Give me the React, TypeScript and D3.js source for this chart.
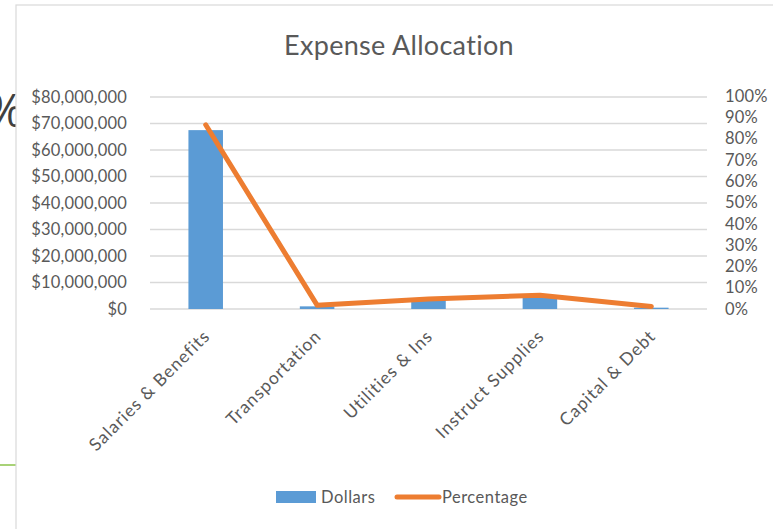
import React from "react";
import * as d3 from "d3";

const categories = [
  "Salaries & Benefits",
  "Transportation",
  "Utilities & Ins",
  "Instruct Supplies",
  "Capital & Debt",
];
const dollars = [67500000, 1000000, 3700000, 4600000, 500000];
const percentages = [0.865, 0.018, 0.047, 0.065, 0.012];
const dollarTicks = [0, 10e6, 20e6, 30e6, 40e6, 50e6, 60e6, 70e6, 80e6];
const percentTicks = [0, 0.1, 0.2, 0.3, 0.4, 0.5, 0.6, 0.7, 0.8, 0.9, 1];

const W = 773;
const H = 529;
const font = "Lato, 'Open Sans', sans-serif";
const textColor = "#595959";
const blue = "#5B9BD5";
const orange = "#ED7D31";

const App = () => {
  const x = d3.scaleBand().domain(categories).range([150, 707]).padding(0);
  const yL = d3.scaleLinear().domain([0, 80e6]).range([309, 97]);
  const yR = d3.scaleLinear().domain([0, 1]).range([309, 96]);
  const barW = x.bandwidth() * 0.31;
  const fmt = d3.format(",");

  const line = d3
    .line<number>()
    .x((d, i) => x(categories[i])! + x.bandwidth() / 2)
    .y((d) => yR(d));

  return (
    <svg
      width={W}
      height={H}
      style={{ position: "absolute", left: 0, top: 0, background: "#fff" }}
      fontFamily={font}
    >
      {/* stray bits of the slide behind the chart */}
      <text x={-14} y={127} fontSize={46} fill="#404040" fontFamily="'Open Sans', sans-serif">%</text>
      <line x1={0} x2={16} y1={465} y2={465} stroke="#8BC34A" strokeWidth={1.5} />
      <rect x={16} y={5} width={W} height={H} fill="#fff" stroke="#D9D9D9" strokeWidth={1.2} />

      <text x={399} y={55} textAnchor="middle" fontSize={27} letterSpacing={0.3} fill={textColor}>
        Expense Allocation
      </text>

      {dollarTicks.map((t) => (
        <g key={t}>
          <line x1={150} x2={707} y1={yL(t)} y2={yL(t)} stroke="#D9D9D9" strokeWidth={1.5} />
          <text x={127} y={yL(t)} dy="0.35em" textAnchor="end" fontSize={16.5} letterSpacing={0.2} fill={textColor}>
            {"$" + fmt(t)}
          </text>
        </g>
      ))}

      {percentTicks.map((t) => (
        <text key={t} x={725} y={yR(t)} dy="0.35em" fontSize={16.5} letterSpacing={0.2} fill={textColor}>
          {Math.round(t * 100) + "%"}
        </text>
      ))}

      {dollars.map((d, i) => (
        <rect
          key={categories[i]}
          x={x(categories[i])! + x.bandwidth() / 2 - barW / 2}
          y={yL(d)}
          width={barW}
          height={yL(0) - yL(d)}
          fill={blue}
        />
      ))}

      <path d={line(percentages)!} fill="none" stroke={orange} strokeWidth={5} strokeLinecap="round" strokeLinejoin="round" />

      {categories.map((c) => (
        <text
          key={c}
          transform={`translate(${x(c)! + x.bandwidth() / 2 + 1},${333}) rotate(-45)`}
          textAnchor="end"
          dy="0.35em"
          fontSize={17.5}
          letterSpacing={1}
          fill={textColor}
        >
          {c}
        </text>
      ))}

      <g>
        <rect x={276} y={491} width={40} height={12} fill={blue} />
        <text x={321} y={497} dy="0.35em" fontSize={16.5} letterSpacing={0.5} fill={textColor}>Dollars</text>
        <line x1={397} x2={439} y1={497} y2={497} stroke={orange} strokeWidth={5} strokeLinecap="round" />
        <text x={442} y={497} dy="0.35em" fontSize={16.5} letterSpacing={0.5} fill={textColor}>Percentage</text>
      </g>
    </svg>
  );
};

export default App;
